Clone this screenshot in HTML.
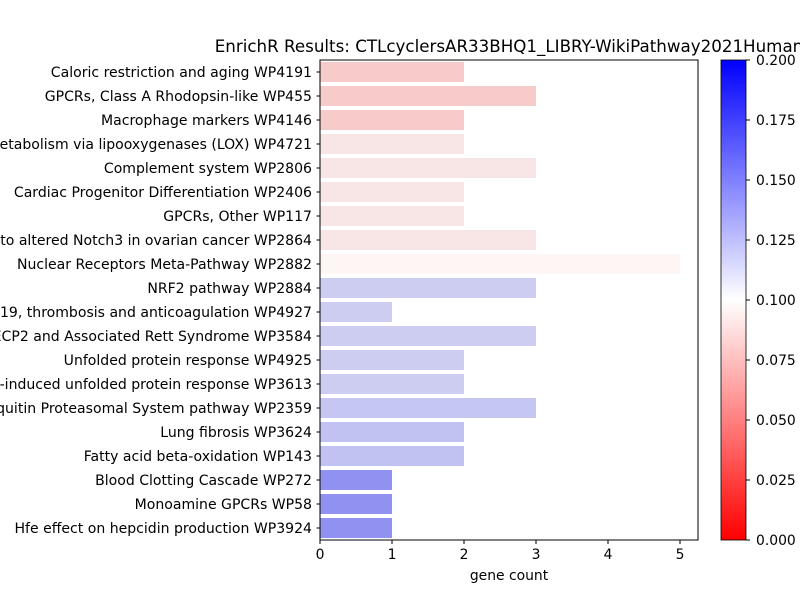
<!DOCTYPE html>
<html><head><meta charset="utf-8"><style>body{margin:0;background:#fff}svg{display:block;font-family:"DejaVu Sans","Liberation Sans",sans-serif}</style></head>
<body>
<svg id="chart" width="800" height="600">
<defs><linearGradient id="cb" x1="0" y1="1" x2="0" y2="0"><stop offset="0" stop-color="#ff0000"/><stop offset="0.5" stop-color="#ffffff"/><stop offset="1" stop-color="#0000ff"/></linearGradient></defs>
<text x="509" y="52" font-size="16.7" text-anchor="middle">EnrichR Results: CTLcyclersAR33BHQ1_LIBRY-WikiPathway2021Human</text>
<g id="bars"></g>
<rect x="320" y="60" width="378" height="480" fill="none" stroke="#000" stroke-width="1"/>
<g id="axes"></g>
<text x="509" y="580" font-size="13.9" text-anchor="middle">gene count</text>
<rect x="721" y="60" width="25" height="480" fill="url(#cb)" stroke="#000" stroke-width="0.8"/>
<g id="cbticks"></g>
</svg>
<script>
const categories=["Caloric restriction and aging WP4191","GPCRs, Class A Rhodopsin-like WP455","Macrophage markers WP4146","Eicosanoid metabolism via lipooxygenases (LOX) WP4721","Complement system WP2806","Cardiac Progenitor Differentiation WP2406","GPCRs, Other WP117","Genes related to altered Notch3 in ovarian cancer WP2864","Nuclear Receptors Meta-Pathway WP2882","NRF2 pathway WP2884","COVID-19, thrombosis and anticoagulation WP4927","MECP2 and Associated Rett Syndrome WP3584","Unfolded protein response WP4925","Photodynamic therapy-induced unfolded protein response WP3613","Parkin-Ubiquitin Proteasomal System pathway WP2359","Lung fibrosis WP3624","Fatty acid beta-oxidation WP143","Blood Clotting Cascade WP272","Monoamine GPCRs WP58","Hfe effect on hepcidin production WP3924"];
const counts=[2,3,2,2,3,2,2,3,5,3,1,3,2,2,3,2,2,1,1,1];
const pvalues=[0.082,0.082,0.082,0.093,0.093,0.093,0.093,0.093,0.099,0.118,0.118,0.118,0.118,0.118,0.121,0.123,0.123,0.142,0.142,0.142];
const xTicks=[0,1,2,3,4,5];
const cbTicks=["0.000","0.025","0.050","0.075","0.100","0.125","0.150","0.175","0.200"];
const NS="http://www.w3.org/2000/svg";
const x=v=>320+v*72, bandY=i=>60+i*24, cbY=v=>540-v/0.2*480;
function mk(t,a,p){const e=document.createElementNS(NS,t);for(const k in a)e.setAttribute(k,a[k]);p.appendChild(e);return e;}
function color(p){const t=Math.min(1,Math.max(0,p/0.2));if(t<0.5){const g=Math.round(2*t*247);return `rgb(${t>0.48?254:248},${g},${g})`;}const v=Math.round((2-2*t)*250);return `rgb(${v},${v},242)`;}
const bars=document.getElementById('bars'),axes=document.getElementById('axes'),cbt=document.getElementById('cbticks');
categories.forEach((c,i)=>{
 const r=mk('rect',{x:x(0),y:bandY(i)+2,width:x(counts[i])-x(0),height:20,fill:color(pvalues[i])},bars);
 
 
 const cy=bandY(i)+12;
 mk('line',{x1:316.5,x2:320,y1:cy,y2:cy,stroke:'#000'},axes);
 const t=mk('text',{x:312,y:cy+5,'font-size':14.05,'text-anchor':'end'},axes);t.textContent=c;
 
 
});
xTicks.forEach(v=>{
 mk('line',{x1:x(v),x2:x(v),y1:540,y2:544,stroke:'#000'},axes);
 const t=mk('text',{x:x(v),y:559,'font-size':13.9,'text-anchor':'middle'},axes);t.textContent=v;
 
 
});
cbTicks.forEach(s=>{
 const y=cbY(parseFloat(s));
 mk('line',{x1:746,x2:750,y1:y,y2:y,stroke:'#000'},cbt);
 const t=mk('text',{x:756,y:y+5,'font-size':13.9},cbt);t.textContent=s;
 
 
});
</script>
</body></html>
